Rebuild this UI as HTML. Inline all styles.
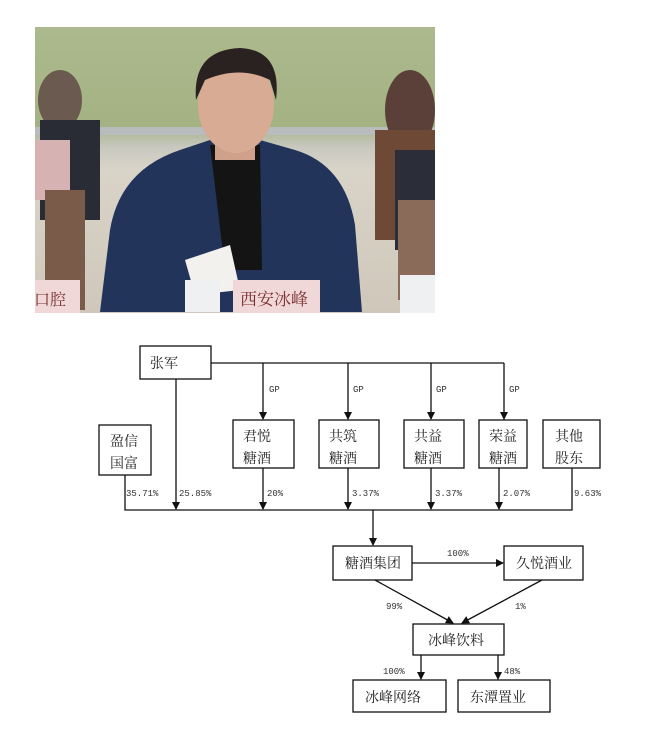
<!DOCTYPE html>
<html><head><meta charset="utf-8"><style>
body{margin:0;background:#fff;width:655px;height:733px;overflow:hidden;}
svg{display:block}
.t{font-family:"Liberation Serif","Noto Serif CJK SC","Noto Sans CJK SC",serif;font-size:14px;fill:#222}
.s{font-family:"Liberation Mono",monospace;font-size:9px;fill:#333}
</style></head><body>
<svg width="655" height="733" viewBox="0 0 655 733">
<defs>
<linearGradient id="bg" x1="0" y1="0" x2="0" y2="1">
<stop offset="0" stop-color="#b9c3a0"/><stop offset="0.35" stop-color="#a7b48a"/><stop offset="0.42" stop-color="#c8c8c0"/><stop offset="0.5" stop-color="#d9d4c8"/><stop offset="1" stop-color="#cfc7ba"/>
</linearGradient>
<marker id="a" markerWidth="8" markerHeight="8" refX="7" refY="4" orient="auto" markerUnits="userSpaceOnUse"><path d="M0,0 L8,4 L0,8z" fill="#111"/></marker>
</defs>
<!-- photo -->
<rect x="35" y="27" width="400" height="286" fill="url(#bg)"/>
<rect x="35" y="27" width="400" height="100" fill="#9fb07c" opacity="0.5"/>
<rect x="35" y="127" width="400" height="8" fill="#b8bcbc"/>
<ellipse cx="60" cy="100" rx="22" ry="30" fill="#6a5a50"/>
<rect x="40" y="120" width="60" height="100" fill="#2a2c35"/>
<rect x="35" y="140" width="35" height="60" fill="#d7b2b2"/>
<rect x="45" y="190" width="40" height="120" fill="#7a5a48"/>
<ellipse cx="410" cy="110" rx="25" ry="40" fill="#5a4038"/>
<rect x="375" y="130" width="60" height="110" fill="#6e4a36"/>
<rect x="395" y="150" width="40" height="100" fill="#2b2d38"/>
<rect x="398" y="200" width="37" height="100" fill="#8a6a58"/>
<!-- man -->
<path d="M100 312 L110 230 Q120 170 180 150 L210 140 L260 140 L295 150 Q345 165 355 225 L362 312 Z" fill="#22345a"/>
<path d="M210 145 L260 145 L262 270 L225 270 Z" fill="#141414"/>
<rect x="215" y="135" width="40" height="25" fill="#cfa08a"/>
<ellipse cx="236" cy="105" rx="38" ry="48" fill="#d8ab94"/>
<path d="M196 100 Q192 50 240 48 Q282 50 276 100 L270 80 Q240 65 205 80 Z" fill="#2a2220"/>
<path d="M185 260 L230 245 L240 290 L195 295 Z" fill="#f3f1ee"/>
<rect x="233" y="280" width="87" height="33" fill="#f0d8d8"/>
<text x="240" y="305" class="t" style="font-size:17px;fill:#7a3030">西安冰峰</text>
<rect x="35" y="280" width="45" height="33" fill="#f0d8d8"/>
<text x="34" y="305" class="t" style="font-size:16px;fill:#7a3030">口腔</text>
<rect x="185" y="280" width="35" height="32" fill="#eef0f2"/>
<rect x="400" y="275" width="35" height="38" fill="#eef0f2"/>
<!-- diagram -->
<g fill="none" stroke="#111" stroke-width="1.3">
<rect x="140" y="346" width="71" height="33"/>
<rect x="99" y="425" width="52" height="50"/>
<rect x="233" y="420" width="61" height="48"/>
<rect x="319" y="420" width="60" height="48"/>
<rect x="404" y="420" width="60" height="48"/>
<rect x="479" y="420" width="48" height="48"/>
<rect x="543" y="420" width="57" height="48"/>
<rect x="333" y="546" width="79" height="34"/>
<rect x="504" y="546" width="79" height="34"/>
<rect x="413" y="624" width="91" height="31"/>
<rect x="353" y="680" width="93" height="32"/>
<rect x="458" y="680" width="92" height="32"/>
<path d="M211 363 H504"/>
<path d="M263 363 V419" marker-end="url(#a)"/>
<path d="M348 363 V419" marker-end="url(#a)"/>
<path d="M431 363 V419" marker-end="url(#a)"/>
<path d="M504 363 V419" marker-end="url(#a)"/>
<path d="M176 379 V509" marker-end="url(#a)"/>
<path d="M263 468 V509" marker-end="url(#a)"/>
<path d="M348 468 V509" marker-end="url(#a)"/>
<path d="M431 468 V509" marker-end="url(#a)"/>
<path d="M499 468 V509" marker-end="url(#a)"/>
<path d="M125 475 V510 H572 V468"/>
<path d="M373 510 V545" marker-end="url(#a)"/>
<path d="M412 563 H503" marker-end="url(#a)"/>
<path d="M375 580 L453 623" marker-end="url(#a)"/>
<path d="M542 580 L462 623" marker-end="url(#a)"/>
<path d="M421 655 V679" marker-end="url(#a)"/>
<path d="M498 655 V679" marker-end="url(#a)"/>
</g>
<text x="150" y="368" class="t">张军</text>
<text x="110" y="446" class="t">盈信</text><text x="110" y="468" class="t">国富</text>
<text x="243" y="441" class="t">君悦</text><text x="243" y="463" class="t">糖酒</text>
<text x="329" y="441" class="t">共筑</text><text x="329" y="463" class="t">糖酒</text>
<text x="414" y="441" class="t">共益</text><text x="414" y="463" class="t">糖酒</text>
<text x="489" y="441" class="t">荣益</text><text x="489" y="463" class="t">糖酒</text>
<text x="555" y="441" class="t">其他</text><text x="555" y="463" class="t">股东</text>
<text x="345" y="568" class="t">糖酒集团</text>
<text x="516" y="568" class="t">久悦酒业</text>
<text x="428" y="645" class="t">冰峰饮料</text>
<text x="365" y="702" class="t">冰峰网络</text>
<text x="470" y="702" class="t">东潭置业</text>
<g class="s">
<text x="269" y="392">GP</text><text x="353" y="392">GP</text><text x="436" y="392">GP</text><text x="509" y="392">GP</text>
<text x="126" y="496">35.71%</text><text x="179" y="496">25.85%</text><text x="267" y="496">20%</text>
<text x="352" y="496">3.37%</text><text x="435" y="496">3.37%</text><text x="503" y="496">2.07%</text><text x="574" y="496">9.63%</text>
<text x="447" y="556">100%</text><text x="386" y="609">99%</text><text x="515" y="609">1%</text>
<text x="383" y="674">100%</text><text x="504" y="674">48%</text>
</g>
</svg>
</body></html>
